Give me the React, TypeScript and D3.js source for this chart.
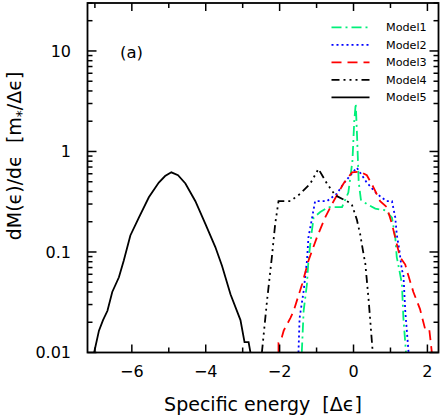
import React from "react";
import * as d3 from "d3";

// ---- data (x: specific energy [Δε], y: dM/dε) ----
const model1X = [-1.40, -1.35, -1.26, -1.22, -1.15, -1.08, -0.9, -0.68, -0.31, -0.14, -0.03, 0.02, 0.06, 0.1, 0.14, 0.2, 0.36, 0.59, 0.86, 1.04, 1.13, 1.17, 1.24, 1.31, 1.35, 1.42];
const model1Y = [0.01, 0.026, 0.048, 0.082, 0.14, 0.22, 0.25, 0.28, 0.28, 0.39, 0.8, 2.0, 3.0, 1.3, 0.5, 0.33, 0.3, 0.27, 0.26, 0.22, 0.14, 0.089, 0.066, 0.048, 0.022, 0.01];

const model2X = [-1.49, -1.46, -1.35, -1.26, -1.22, -1.12, -1.04, -0.72, -0.45, -0.27, 0.09, 0.36, 0.63, 0.9, 1.04, 1.13, 1.17, 1.24, 1.31, 1.35, 1.40, 1.49];
const model2Y = [0.01, 0.022, 0.041, 0.082, 0.14, 0.22, 0.32, 0.32, 0.38, 0.48, 0.69, 0.49, 0.38, 0.32, 0.32, 0.22, 0.15, 0.104, 0.066, 0.06, 0.026, 0.01];

const model3X = [-2.03, -2.03, -1.94, -1.89, -1.71, -1.62, -1.39, -1.22, -0.99, -0.77, -0.54, -0.27, -0.04, 0.18, 0.36, 0.54, 0.72, 0.9, 1.04, 1.17, 1.26, 1.40, 1.44, 1.62, 1.80, 1.94, 2.05, 2.12];
const model3Y = [0.01, 0.0125, 0.0142, 0.0165, 0.022, 0.026, 0.048, 0.082, 0.14, 0.22, 0.32, 0.48, 0.62, 0.63, 0.58, 0.44, 0.32, 0.28, 0.19, 0.12, 0.089, 0.075, 0.066, 0.04, 0.027, 0.017, 0.017, 0.01];

const model4X = [-2.48, -2.34, -2.21, -2.12, -2.03, -1.71, -1.44, -1.17, -0.95, -0.72, -0.49, -0.18, -0.05, 0.09, 0.18, 0.27, 0.32, 0.41, 0.52];
const model4Y = [0.01, 0.033, 0.089, 0.19, 0.32, 0.32, 0.38, 0.48, 0.67, 0.48, 0.365, 0.32, 0.3, 0.21, 0.15, 0.096, 0.076, 0.033, 0.01];

const model5X = [-7.02, -6.89, -6.78, -6.66, -6.53, -6.35, -6.22, -6.04, -5.81, -5.54, -5.27, -5.1, -4.93, -4.75, -4.55, -4.28, -4.01, -3.74, -3.56, -3.33, -3.06, -2.95, -2.84, -2.79];
const model5Y = [0.01, 0.0165, 0.021, 0.026, 0.04, 0.056, 0.082, 0.146, 0.22, 0.35, 0.49, 0.57, 0.62, 0.58, 0.48, 0.32, 0.19, 0.112, 0.073, 0.038, 0.021, 0.0127, 0.0127, 0.01];

const modelNames = ["Model1", "Model2", "Model3", "Model4", "Model5"];
const xTickLabels = [-6, -4, -2, 0, 2];
const xMinorTicks = [-7, -5, -3, -1, 1];
const yTickLabels = [0.01, 0.1, 1, 10];

const series = [
  { name: modelNames[0], xs: model1X, ys: model1Y, color: "#00f07a", dash: "10,4,2,4" },
  { name: modelNames[1], xs: model2X, ys: model2Y, color: "#0000ff", dash: "2,3" },
  { name: modelNames[2], xs: model3X, ys: model3Y, color: "#ff0000", dash: "10,6" },
  { name: modelNames[3], xs: model4X, ys: model4Y, color: "#000000", dash: "8,4,2,4,2,4,2,4" },
  { name: modelNames[4], xs: model5X, ys: model5Y, color: "#000000", dash: "" },
];

const W = 441, H = 416;
const L = 87.5, R = 438.5, T = 3, B = 352.5;
const FONT = "DejaVu Sans";

export default function App() {
  const x = d3.scaleLinear().domain([-7.2, 2.3]).range([L, R]);
  const y = d3.scaleLog().domain([0.01, 30]).range([B, T]);
  const line = d3.line<[number, number]>().x(d => x(d[0])).y(d => y(d[1]));

  const yMinor: number[] = [];
  [0.01, 0.1, 1, 10].forEach(dec => {
    for (let k = 2; k <= 9; k++) {
      const v = dec * k;
      if (v <= 30) yMinor.push(v);
    }
  });

  const legendX0 = 331.5, legendX1 = 369.5, legendTextX = 386;
  const legendY = (i: number) => 27.3 + i * 17.5;

  return (
    <svg width={W} height={H} style={{ position: "absolute", left: 0, top: 0, background: "#fff" }}>
      <defs>
        <clipPath id="plotclip">
          <rect x={L} y={T} width={R - L} height={B - T} />
        </clipPath>
      </defs>
      <rect x={0} y={0} width={W} height={H} fill="#fff" />
      <g clipPath="url(#plotclip)">
        {series.map(s => (
          <path
            key={s.name}
            d={line(s.xs.map((v, i) => [v, s.ys[i]] as [number, number])) || ""}
            fill="none"
            stroke={s.color}
            strokeWidth={1.8}
            strokeDasharray={s.dash || undefined}
          />
        ))}
      </g>
      {/* ticks */}
      <g stroke="#000" strokeWidth={1.5}>
        {xTickLabels.map(v => (
          <g key={"xt" + v}>
            <line x1={x(v)} x2={x(v)} y1={B} y2={B - 8} />
            <line x1={x(v)} x2={x(v)} y1={T} y2={T + 8} />
          </g>
        ))}
        {xMinorTicks.map(v => (
          <g key={"xm" + v}>
            <line x1={x(v)} x2={x(v)} y1={B} y2={B - 5} />
            <line x1={x(v)} x2={x(v)} y1={T} y2={T + 5} />
          </g>
        ))}
        {yTickLabels.map(v => (
          <g key={"yt" + v}>
            <line x1={L} x2={L + 9} y1={y(v)} y2={y(v)} />
            <line x1={R} x2={R - 9} y1={y(v)} y2={y(v)} />
          </g>
        ))}
        {yMinor.map(v => (
          <g key={"ym" + v}>
            <line x1={L} x2={L + 5} y1={y(v)} y2={y(v)} />
            <line x1={R} x2={R - 5} y1={y(v)} y2={y(v)} />
          </g>
        ))}
      </g>
      <rect x={L} y={T} width={R - L} height={B - T} fill="none" stroke="#000" strokeWidth={1.8} />
      {/* tick labels */}
      <g fontFamily={FONT} fontSize={16} fill="#000">
        {xTickLabels.map(v => (
          <text key={"xl" + v} x={x(v)} y={377} textAnchor="middle">
            {v < 0 ? "\u2212" + Math.abs(v) : String(v)}
          </text>
        ))}
        {yTickLabels.map(v => (
          <text key={"yl" + v} x={71} y={y(v)} dy="0.36em" textAnchor="end">
            {String(v)}
          </text>
        ))}
      </g>
      {/* axis titles */}
      <text x={263} y={411} textAnchor="middle" fontFamily={FONT} fontSize={19} fill="#000" style={{ whiteSpace: "pre" }}>
        {"Specific energy  [Δϵ]"}
      </text>
      <text
        transform="translate(21,156) rotate(-90)"
        textAnchor="middle"
        fontFamily={FONT}
        fontSize={19}
        fill="#000"
        style={{ whiteSpace: "pre" }}
      >
        {"dM(ϵ)/dϵ  [m"}
        <tspan fontSize={14} dy={5}>*</tspan>
        <tspan dy={-5}>/Δϵ]</tspan>
      </text>
      <text x={120} y={57.5} fontFamily={FONT} fontSize={16.5} fill="#000">(a)</text>
      {/* legend */}
      <g fontFamily={FONT} fontSize={11.2} fill="#000">
        {series.map((s, i) => (
          <g key={"lg" + s.name}>
            <line
              x1={legendX0}
              x2={legendX1}
              y1={legendY(i)}
              y2={legendY(i)}
              stroke={s.color}
              strokeWidth={1.8}
              strokeDasharray={s.dash || undefined}
            />
            <text x={legendTextX} y={legendY(i)} dy="0.36em">{s.name}</text>
          </g>
        ))}
      </g>
    </svg>
  );
}
